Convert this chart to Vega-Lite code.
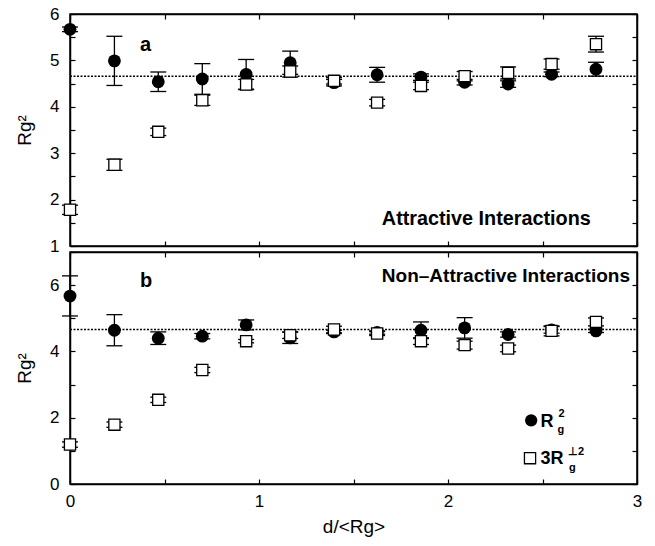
{
  "$schema": "https://vega.github.io/schema/vega-lite/v6.json",
  "padding": {"left": 14, "top": 4, "right": 5, "bottom": 5},
  "background": "white",
  "config": {
    "view": {"stroke": "black", "strokeWidth": 1.5},
    "axis": {"domainColor": "black", "domainWidth": 1.5, "tickColor": "black", "tickWidth": 1.2, "tickSize": -5, "grid": false,
      "labelFont": "Liberation Sans", "labelFontSize": 17, "labelColor": "black", "labelFlush": false, "labelOverlap": false,
      "titleFont": "Liberation Sans", "titleFontSize": 19, "titleFontWeight": "normal", "titleColor": "black"},
    "axisX": {"labelPadding": 14, "titlePadding": 8},
    "axisY": {"labelPadding": 16, "titlePadding": 15},
    "text": {"font": "Liberation Sans", "color": "black"}
  },
  "datasets": {
    "ref": [{"panel": "a", "y": 4.66}, {"panel": "b", "y": 4.66}],
    "pts": [
      {"panel": "a", "series": "R2", "x": 0, "y": 5.67, "lo": 5.62, "hi": 5.72},
      {"panel": "a", "series": "R2", "x": 0.235, "y": 4.99, "lo": 4.46, "hi": 5.52},
      {"panel": "a", "series": "R2", "x": 0.467, "y": 4.54, "lo": 4.33, "hi": 4.75},
      {"panel": "a", "series": "R2", "x": 0.7, "y": 4.6, "lo": 4.27, "hi": 4.93},
      {"panel": "a", "series": "R2", "x": 0.932, "y": 4.7, "lo": 4.38, "hi": 5.02},
      {"panel": "a", "series": "R2", "x": 1.165, "y": 4.95, "lo": 4.7, "hi": 5.2},
      {"panel": "a", "series": "R2", "x": 1.397, "y": 4.52, "lo": 4.45, "hi": 4.59},
      {"panel": "a", "series": "R2", "x": 1.625, "y": 4.69, "lo": 4.53, "hi": 4.85},
      {"panel": "a", "series": "R2", "x": 1.857, "y": 4.64, "lo": 4.57, "hi": 4.71},
      {"panel": "a", "series": "R2", "x": 2.088, "y": 4.53, "lo": 4.47, "hi": 4.59},
      {"panel": "a", "series": "R2", "x": 2.318, "y": 4.49, "lo": 4.42, "hi": 4.56},
      {"panel": "a", "series": "R2", "x": 2.548, "y": 4.7, "lo": 4.65, "hi": 4.75},
      {"panel": "a", "series": "R2", "x": 2.783, "y": 4.81, "lo": 4.66, "hi": 4.96},
      {"panel": "a", "series": "3Rperp2", "x": 0, "y": 1.78, "lo": 1.68, "hi": 1.88},
      {"panel": "a", "series": "3Rperp2", "x": 0.235, "y": 2.75, "lo": 2.63, "hi": 2.87},
      {"panel": "a", "series": "3Rperp2", "x": 0.467, "y": 3.46, "lo": 3.38, "hi": 3.54},
      {"panel": "a", "series": "3Rperp2", "x": 0.7, "y": 4.14, "lo": 4.03, "hi": 4.25},
      {"panel": "a", "series": "3Rperp2", "x": 0.932, "y": 4.48, "lo": 4.37, "hi": 4.59},
      {"panel": "a", "series": "3Rperp2", "x": 1.165, "y": 4.76, "lo": 4.64, "hi": 4.88},
      {"panel": "a", "series": "3Rperp2", "x": 1.397, "y": 4.56, "lo": 4.49, "hi": 4.63},
      {"panel": "a", "series": "3Rperp2", "x": 1.625, "y": 4.09, "lo": 4.02, "hi": 4.16},
      {"panel": "a", "series": "3Rperp2", "x": 1.857, "y": 4.45, "lo": 4.37, "hi": 4.53},
      {"panel": "a", "series": "3Rperp2", "x": 2.088, "y": 4.66, "lo": 4.56, "hi": 4.76},
      {"panel": "a", "series": "3Rperp2", "x": 2.318, "y": 4.73, "lo": 4.6, "hi": 4.86},
      {"panel": "a", "series": "3Rperp2", "x": 2.548, "y": 4.92, "lo": 4.81, "hi": 5.03},
      {"panel": "a", "series": "3Rperp2", "x": 2.783, "y": 5.35, "lo": 5.18, "hi": 5.52},
      {"panel": "b", "series": "R2", "x": 0, "y": 5.67, "lo": 5.07, "hi": 6.28},
      {"panel": "b", "series": "R2", "x": 0.235, "y": 4.64, "lo": 4.17, "hi": 5.11},
      {"panel": "b", "series": "R2", "x": 0.467, "y": 4.4, "lo": 4.21, "hi": 4.59},
      {"panel": "b", "series": "R2", "x": 0.7, "y": 4.46, "lo": 4.38, "hi": 4.54},
      {"panel": "b", "series": "R2", "x": 0.932, "y": 4.8, "lo": 4.65, "hi": 4.95},
      {"panel": "b", "series": "R2", "x": 1.165, "y": 4.41, "lo": 4.24, "hi": 4.58},
      {"panel": "b", "series": "R2", "x": 1.397, "y": 4.59, "lo": 4.54, "hi": 4.64},
      {"panel": "b", "series": "R2", "x": 1.625, "y": 4.57, "lo": 4.52, "hi": 4.62},
      {"panel": "b", "series": "R2", "x": 1.857, "y": 4.64, "lo": 4.39, "hi": 4.89},
      {"panel": "b", "series": "R2", "x": 2.088, "y": 4.71, "lo": 4.4, "hi": 5.02},
      {"panel": "b", "series": "R2", "x": 2.318, "y": 4.51, "lo": 4.43, "hi": 4.59},
      {"panel": "b", "series": "R2", "x": 2.548, "y": 4.65, "lo": 4.55, "hi": 4.75},
      {"panel": "b", "series": "R2", "x": 2.783, "y": 4.62, "lo": 4.57, "hi": 4.67},
      {"panel": "b", "series": "3Rperp2", "x": 0, "y": 1.19, "lo": 1.11, "hi": 1.27},
      {"panel": "b", "series": "3Rperp2", "x": 0.235, "y": 1.79, "lo": 1.71, "hi": 1.87},
      {"panel": "b", "series": "3Rperp2", "x": 0.467, "y": 2.54, "lo": 2.46, "hi": 2.62},
      {"panel": "b", "series": "3Rperp2", "x": 0.7, "y": 3.44, "lo": 3.36, "hi": 3.52},
      {"panel": "b", "series": "3Rperp2", "x": 0.932, "y": 4.31, "lo": 4.26, "hi": 4.36},
      {"panel": "b", "series": "3Rperp2", "x": 1.165, "y": 4.49, "lo": 4.39, "hi": 4.59},
      {"panel": "b", "series": "3Rperp2", "x": 1.397, "y": 4.66, "lo": 4.56, "hi": 4.76},
      {"panel": "b", "series": "3Rperp2", "x": 1.625, "y": 4.54, "lo": 4.48, "hi": 4.6},
      {"panel": "b", "series": "3Rperp2", "x": 1.857, "y": 4.31, "lo": 4.21, "hi": 4.41},
      {"panel": "b", "series": "3Rperp2", "x": 2.088, "y": 4.19, "lo": 4.07, "hi": 4.31},
      {"panel": "b", "series": "3Rperp2", "x": 2.318, "y": 4.09, "lo": 3.99, "hi": 4.19},
      {"panel": "b", "series": "3Rperp2", "x": 2.548, "y": 4.62, "lo": 4.47, "hi": 4.77},
      {"panel": "b", "series": "3Rperp2", "x": 2.783, "y": 4.89, "lo": 4.77, "hi": 5.01}
    ],
    "ann": [
      {"panel": "a", "role": "label", "t": "a", "x": 0.37, "y": 5.2},
      {"panel": "b", "role": "label", "t": "b", "x": 0.37, "y": 5.95},
      {"panel": "a", "role": "note", "t": "Attractive Interactions", "x": 1.65, "y": 1.45},
      {"panel": "b", "role": "note", "t": "Non–Attractive Interactions", "x": 1.65, "y": 6.08},
      {"panel": "b", "role": "main", "t": "R", "x": 2.49, "y": 1.71},
      {"panel": "b", "role": "sup", "t": "2", "x": 2.585, "y": 2.01},
      {"panel": "b", "role": "sub", "t": "g", "x": 2.58, "y": 1.54},
      {"panel": "b", "role": "main", "t": "3R", "x": 2.49, "y": 0.61},
      {"panel": "b", "role": "sup", "t": "⊥2", "x": 2.635, "y": 0.87},
      {"panel": "b", "role": "sub", "t": "g", "x": 2.64, "y": 0.39},
      {"panel": "b", "role": "symc", "t": "", "x": 2.44, "y": 1.92},
      {"panel": "b", "role": "syms", "t": "", "x": 2.434, "y": 0.78}
    ]
  },
  "bounds": "flush",
  "spacing": 6,
  "vconcat": [
    {
      "width": 567,
      "height": 232,
      "layer": [
        {
          "data": {"name": "ref"},
          "transform": [{"filter": "datum.panel === 'a'"}],
          "mark": {"type": "rule", "strokeDash": [2, 1.5], "strokeWidth": 1.6, "color": "black"},
          "encoding": {
            "x": {"datum": 0, "type": "quantitative", "scale": {"domain": [0, 3], "nice": false, "zero": false},
              "axis": {"orient": "top", "values": [0, 0.5, 1, 1.5, 2, 2.5, 3], "labels": false, "title": null}},
            "x2": {"datum": 3},
            "y": {"field": "y", "type": "quantitative", "scale": {"domain": [1, 6], "nice": false, "zero": false},
              "axis": {"orient": "right", "values": [1, 1.5, 2, 2.5, 3, 3.5, 4, 4.5, 5, 5.5, 6], "labels": false, "title": null}}
          }
        },
        {
          "data": {"name": "pts"},
          "transform": [{"filter": "datum.panel === 'a'"}],
          "mark": {"type": "rule", "strokeWidth": 1.3, "color": "black"},
          "encoding": {
            "x": {"field": "x", "type": "quantitative", "scale": {"domain": [0, 3], "nice": false, "zero": false},
              "axis": {"orient": "bottom", "values": [0, 0.5, 1, 1.5, 2, 2.5, 3], "labels": false, "title": null}},
            "y": {"field": "lo", "type": "quantitative", "scale": {"domain": [1, 6], "nice": false, "zero": false},
              "axis": {"orient": "left", "values": [1, 1.5, 2, 2.5, 3, 3.5, 4, 4.5, 5, 5.5, 6], "labelExpr": "datum.value % 1 === 0 ? '' + datum.value : ''", "title": "Rg²"}},
            "y2": {"field": "hi"}
          }
        },
        {
          "data": {"name": "pts"},
          "transform": [{"filter": "datum.panel === 'a'"}],
          "mark": {"type": "tick", "orient": "horizontal", "size": 16, "thickness": 1.3, "color": "black", "opacity": 1},
          "encoding": {
            "x": {"field": "x", "type": "quantitative", "axis": null},
            "y": {"field": "lo", "type": "quantitative", "axis": null}
          }
        },
        {
          "data": {"name": "pts"},
          "transform": [{"filter": "datum.panel === 'a'"}],
          "mark": {"type": "tick", "orient": "horizontal", "size": 16, "thickness": 1.3, "color": "black", "opacity": 1},
          "encoding": {
            "x": {"field": "x", "type": "quantitative", "axis": null},
            "y": {"field": "hi", "type": "quantitative", "axis": null}
          }
        },
        {
          "data": {"name": "pts"},
          "transform": [{"filter": "datum.panel === 'a' && datum.series === 'R2'"}],
          "mark": {"type": "point", "shape": "circle", "filled": true, "color": "black", "size": 165, "opacity": 1},
          "encoding": {
            "x": {"field": "x", "type": "quantitative", "axis": null},
            "y": {"field": "y", "type": "quantitative", "axis": null}
          }
        },
        {
          "data": {"name": "pts"},
          "transform": [{"filter": "datum.panel === 'a' && datum.series === '3Rperp2'"}],
          "mark": {"type": "point", "shape": "square", "filled": true, "fill": "white", "stroke": "black", "strokeWidth": 1.3, "size": 125, "opacity": 1},
          "encoding": {
            "x": {"field": "x", "type": "quantitative", "axis": null},
            "y": {"field": "y", "type": "quantitative", "axis": null}
          }
        },
        {
          "data": {"name": "ann"},
          "transform": [{"filter": "datum.panel === 'a' && datum.role === 'label'"}],
          "mark": {"type": "text", "align": "left", "baseline": "alphabetic", "fontSize": 20, "fontWeight": "bold"},
          "encoding": {
            "x": {"field": "x", "type": "quantitative", "axis": null},
            "y": {"field": "y", "type": "quantitative", "axis": null},
            "text": {"field": "t"}
          }
        },
        {
          "data": {"name": "ann"},
          "transform": [{"filter": "datum.panel === 'a' && datum.role === 'note'"}],
          "mark": {"type": "text", "align": "left", "baseline": "alphabetic", "fontSize": 19.8, "fontWeight": "bold"},
          "encoding": {
            "x": {"field": "x", "type": "quantitative", "axis": null},
            "y": {"field": "y", "type": "quantitative", "axis": null},
            "text": {"field": "t"}
          }
        }
      ],
      "resolve": {"axis": {"x": "independent", "y": "independent"}}
    },
    {
      "width": 567,
      "height": 232,
      "layer": [
        {
          "data": {"name": "ref"},
          "transform": [{"filter": "datum.panel === 'b'"}],
          "mark": {"type": "rule", "strokeDash": [2, 1.5], "strokeWidth": 1.6, "color": "black"},
          "encoding": {
            "x": {"datum": 0, "type": "quantitative", "scale": {"domain": [0, 3], "nice": false, "zero": false},
              "axis": {"orient": "top", "values": [0, 0.5, 1, 1.5, 2, 2.5, 3], "labels": false, "title": null}},
            "x2": {"datum": 3},
            "y": {"field": "y", "type": "quantitative", "scale": {"domain": [0, 7], "nice": false, "zero": false},
              "axis": {"orient": "right", "values": [0, 1, 2, 3, 4, 5, 6, 7], "labels": false, "title": null}}
          }
        },
        {
          "data": {"name": "pts"},
          "transform": [{"filter": "datum.panel === 'b'"}],
          "mark": {"type": "rule", "strokeWidth": 1.3, "color": "black"},
          "encoding": {
            "x": {"field": "x", "type": "quantitative", "scale": {"domain": [0, 3], "nice": false, "zero": false},
              "axis": {"orient": "bottom", "values": [0, 0.5, 1, 1.5, 2, 2.5, 3], "labelExpr": "datum.value % 1 === 0 ? '' + datum.value : ''", "title": "d/<Rg>"}},
            "y": {"field": "lo", "type": "quantitative", "scale": {"domain": [0, 7], "nice": false, "zero": false},
              "axis": {"orient": "left", "values": [0, 1, 2, 3, 4, 5, 6, 7], "labelExpr": "datum.value % 2 === 0 ? '' + datum.value : ''", "title": "Rg²"}},
            "y2": {"field": "hi"}
          }
        },
        {
          "data": {"name": "pts"},
          "transform": [{"filter": "datum.panel === 'b'"}],
          "mark": {"type": "tick", "orient": "horizontal", "size": 16, "thickness": 1.3, "color": "black", "opacity": 1},
          "encoding": {
            "x": {"field": "x", "type": "quantitative", "axis": null},
            "y": {"field": "lo", "type": "quantitative", "axis": null}
          }
        },
        {
          "data": {"name": "pts"},
          "transform": [{"filter": "datum.panel === 'b'"}],
          "mark": {"type": "tick", "orient": "horizontal", "size": 16, "thickness": 1.3, "color": "black", "opacity": 1},
          "encoding": {
            "x": {"field": "x", "type": "quantitative", "axis": null},
            "y": {"field": "hi", "type": "quantitative", "axis": null}
          }
        },
        {
          "data": {"name": "pts"},
          "transform": [{"filter": "datum.panel === 'b' && datum.series === 'R2'"}],
          "mark": {"type": "point", "shape": "circle", "filled": true, "color": "black", "size": 165, "opacity": 1},
          "encoding": {
            "x": {"field": "x", "type": "quantitative", "axis": null},
            "y": {"field": "y", "type": "quantitative", "axis": null}
          }
        },
        {
          "data": {"name": "pts"},
          "transform": [{"filter": "datum.panel === 'b' && datum.series === '3Rperp2'"}],
          "mark": {"type": "point", "shape": "square", "filled": true, "fill": "white", "stroke": "black", "strokeWidth": 1.3, "size": 125, "opacity": 1},
          "encoding": {
            "x": {"field": "x", "type": "quantitative", "axis": null},
            "y": {"field": "y", "type": "quantitative", "axis": null}
          }
        },
        {
          "data": {"name": "ann"},
          "transform": [{"filter": "datum.role === 'symc'"}],
          "mark": {"type": "point", "shape": "circle", "filled": true, "color": "black", "size": 150, "opacity": 1},
          "encoding": {
            "x": {"field": "x", "type": "quantitative", "axis": null},
            "y": {"field": "y", "type": "quantitative", "axis": null}
          }
        },
        {
          "data": {"name": "ann"},
          "transform": [{"filter": "datum.role === 'syms'"}],
          "mark": {"type": "point", "shape": "square", "filled": true, "fill": "white", "stroke": "black", "strokeWidth": 1.3, "size": 125, "opacity": 1},
          "encoding": {
            "x": {"field": "x", "type": "quantitative", "axis": null},
            "y": {"field": "y", "type": "quantitative", "axis": null}
          }
        },
        {
          "data": {"name": "ann"},
          "transform": [{"filter": "datum.panel === 'b' && datum.role === 'label'"}],
          "mark": {"type": "text", "align": "left", "baseline": "alphabetic", "fontSize": 20, "fontWeight": "bold"},
          "encoding": {
            "x": {"field": "x", "type": "quantitative", "axis": null},
            "y": {"field": "y", "type": "quantitative", "axis": null},
            "text": {"field": "t"}
          }
        },
        {
          "data": {"name": "ann"},
          "transform": [{"filter": "datum.panel === 'b' && datum.role === 'note'"}],
          "mark": {"type": "text", "align": "left", "baseline": "alphabetic", "fontSize": 19, "fontWeight": "bold"},
          "encoding": {
            "x": {"field": "x", "type": "quantitative", "axis": null},
            "y": {"field": "y", "type": "quantitative", "axis": null},
            "text": {"field": "t"}
          }
        },
        {
          "data": {"name": "ann"},
          "transform": [{"filter": "datum.role === 'main'"}],
          "mark": {"type": "text", "align": "left", "baseline": "alphabetic", "fontSize": 18, "fontWeight": "bold"},
          "encoding": {
            "x": {"field": "x", "type": "quantitative", "axis": null},
            "y": {"field": "y", "type": "quantitative", "axis": null},
            "text": {"field": "t"}
          }
        },
        {
          "data": {"name": "ann"},
          "transform": [{"filter": "datum.role === 'sup' || datum.role === 'sub'"}],
          "mark": {"type": "text", "align": "left", "baseline": "alphabetic", "fontSize": 11, "fontWeight": "bold"},
          "encoding": {
            "x": {"field": "x", "type": "quantitative", "axis": null},
            "y": {"field": "y", "type": "quantitative", "axis": null},
            "text": {"field": "t"}
          }
        }
      ],
      "resolve": {"axis": {"x": "independent", "y": "independent"}}
    }
  ]
}
